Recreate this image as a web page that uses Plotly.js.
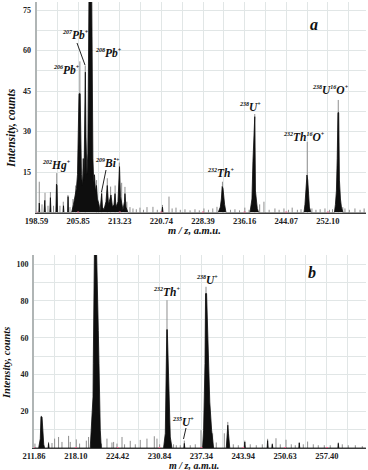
<!DOCTYPE html>
<html><head><meta charset="utf-8">
<script src="https://cdn.plot.ly/plotly-3.0.1.min.js"></script>
<style>html,body{margin:0;padding:0;background:#fff}#c{width:368px;height:470px}</style>
</head><body><div id="c"></div>
<script>
// ---------- DATA (m/z in a.m.u., intensity in counts) ----------
const topTickLabels = ['198.59','205.85','213.23','220.74','228.39','236.16','244.07','252.10'];
const botTickLabels = ['211.86','218.10','224.42','230.84','237.34','243.94','250.63','257.40'];

// panel a: dense (black) part of the spectrum
const topFillMz = [198.59,199.0,199.07,199.15,199.9,200.02,200.12,200.9,201.0,201.1,201.95,202.05,202.15,202.25,203.2,203.28,203.36,204.0,204.08,204.16,
 204.7,205.03,205.29,205.55,205.73,205.85,205.92,206.0,206.2,206.3,206.43,206.61,206.75,206.87,206.96,207.05,207.12,207.23,207.4,207.55,207.68,207.75,208.25,208.33,208.45,208.6,208.73,208.91,209.08,209.26,209.53,209.71,209.88,210.0,210.15,210.41,210.77,211.0,211.22,211.48,211.66,211.93,212.2,212.38,212.56,212.91,213.09,213.19,213.35,213.57,213.8,214.07,214.16,214.34,214.7,
 220.8,220.94,221.05,231.2,231.6,231.8,231.95,232.1,232.4,232.5,232.66,
 237.17,237.32,237.54,237.73,237.92,238.07,238.2,238.36,238.55,238.8,
 247.47,247.66,247.85,248.04,248.19,248.33,248.52,248.81,
 253.37,253.57,253.76,253.92,254.06,254.21,254.35,254.55,254.74,255.04,259.56];
const topFillInt = [0,0,3.5,0,0,4.5,0,0,5.5,0,0,10.5,10,0,0,2.5,0,0,5.9,0,
 0,3,6,9,14,28,40,44,44,30,14,10,20,12,30,52,52,28,14,22,45,79,79,45,20,11,14,8,10,5,3,0.5,5,7,2,1,4,10,3,5,6.5,2,3,7,2,4,17,17,6,4,1,4,7,2,0,
 0,2,0,0,2,5,9.6,9,3,1.5,0,
 0,3,5,19,30,35.5,8,3,1.5,0,
 0,3,8,13.9,12,5,2,0,
 0,3,8,20,37,37,12,5,2,0,0];

// panel a: thin (grey) sticks
const topSpikeMz = [199.07,199.54,200.06,200.58,201.0,201.54,202.1,202.66,203.24,204.06,204.41,204.94,205.4,206.15,207.1,209.1,210.0,211.0,211.6,212.4,213.15,213.57,214.16,214.5,
 215.06,215.6,216.2,216.86,217.5,218.13,219.21,220.0,220.94,222.13,222.7,223.41,224.2,225.06,226.0,226.9,227.7,228.56,229.4,230.2,230.98,232.0,233.5,234.34,235.2,236.2,237.0,
 238.07,239.0,239.81,240.8,241.9,242.7,243.62,244.5,245.2,246.2,246.9,248.1,249.0,249.78,250.6,251.53,252.4,253.0,254.12,255.0,255.43,256.3,257.39,258.4,259.2];
const topSpikeInt = [11.4,3,7.3,2.5,7.6,2.5,14.6,2.5,4,6.5,2,5,10,56,54.5,12,8,12.7,9.6,10,18.5,11,9.5,4,
 2,1.5,1.2,1.8,1,2,2.1,1,2.8,5.9,1.5,1.8,1,1.2,0.8,1.2,0.8,1.5,1,1.5,2.1,11.4,1,1.2,0.8,1.8,1,
 36.5,3,4,1,1.5,1,1.5,1,1.8,1,1.2,26.2,1.5,1,1.2,1.5,1,1.2,41.7,2,1.5,1,1.5,1,1.5];

// panel b: dense (black) part of the spectrum
const botFillMz = [211.86,212.55,212.79,212.9,213.05,213.16,213.3,213.43,213.95,214.02,214.1,
 220.26,220.42,220.68,220.72,220.78,220.83,220.87,220.9,221.2,221.28,221.38,221.48,221.58,221.67,221.78,221.93,
 231.46,231.73,231.83,231.96,232.04,232.24,232.35,232.5,232.76,234.6,234.68,234.76,
 237.53,237.69,237.91,238.0,238.16,238.43,238.66,238.95,239.26,
 241.26,241.4,241.5,241.6,241.81,244.1,244.19,244.28,247.75,247.83,247.92,248.5,248.58,248.66,252.85,252.92,253.0,259.2,259.27,259.35,263.8];
const botFillInt = [0,0,5,17,16.9,6,2,0,0,2.5,0,
 0,9.7,27.8,46,64,82,100,110,110,100,82,64,46,27.8,9.7,0,
 0,8,36.9,64.4,64.4,36.9,15,6,0,0,2.5,0,
 0,9.7,46,84,84,46,25,9.7,0,
 0,8,12.4,8,0,0,3.3,0,0,4,0,0,2,0,0,2.8,0,0,2.5,0,0];

// panel b: thin (grey) sticks
const botSpikeMz = [212.0,212.93,214.02,214.53,214.92,215.51,216.02,217.01,217.26,218.16,218.66,219.67,220.01,221.97,222.79,223.55,223.8,224.31,225.08,225.47,226.34,227.11,227.87,228.9,230.03,230.44,230.85,
 231.99,233.01,233.43,234.05,234.68,235.61,236.39,237.28,238.07,239.11,239.68,240.95,241.5,242.37,243.16,244.19,245.06,246.02,246.98,247.83,248.58,249.17,249.86,250.78,251.63,252.27,252.92,253.57,254.27,255.19,256.0,256.98,257.95,259.27,259.92,260.9,262.06,263.21];
const botSpikeInt = [2.4,17.5,3.3,2.7,5.1,6,3.3,6.6,3.3,4.7,2.4,4,6,2.4,5.1,3,3.3,2.4,6,2,3.9,2,4.4,5.1,6.4,5.1,2,
 80.4,2,1.5,1.5,4,1.5,2,9.7,87.7,8,3,8,14.2,2,1.5,4,2,1.5,2,5,2.5,5.3,2,4.5,2,1.5,3,2,3.5,2,1.5,1.5,1.5,3,2,1.5,1.5,1];

// ---------- BUILD ----------
const sq = v => Math.sqrt(v);   // time-of-flight axis: position ~ sqrt(m/z)
function sticks(mz, h, xa, ya) {
  const xs = [], ys = [];
  for (let i = 0; i < mz.length; i++) { xs.push(sq(mz[i]), sq(mz[i]), null); ys.push(0, h[i], null); }
  return {x: xs, y: ys, xaxis: xa, yaxis: ya, mode: 'lines', line: {color: '#8e8e8e', width: 1}, hoverinfo: 'skip', showlegend: false};
}
function dense(mz, h, xa, ya) {
  return {x: mz.map(sq), y: h, xaxis: xa, yaxis: ya, mode: 'lines', fill: 'tozeroy',
    fillcolor: '#0e0e0e', line: {color: '#0e0e0e', width: 0.8}, hoverinfo: 'skip', showlegend: false};
}
function mids(labels) {
  const v = labels.map(s => sq(parseFloat(s))), out = [];
  for (let i = 0; i < v.length - 1; i++) out.push((v[i] + v[i + 1]) / 2);
  out.push(v[v.length - 1] + (v[v.length - 1] - v[v.length - 2]) / 2);
  return out;
}

const L = 34, R = 2, T = 2, B = 22, W = 368 - L - R, H = 470 - T - B;
const px = (x, y) => ({x: (x - L) / W, y: 1 - (y - T) / H});

const tickFont = {family: 'Liberation Serif', size: 8.5, color: '#222', weight: 'bold'};
const labFont = {family: 'Liberation Serif', size: 11.5, color: '#111', weight: 'bold', style: 'italic'};
const GRID = '#e1e6e6';

function xax(labels, range, domain) {
  return {range: range, domain: domain, tickmode: 'array', tickvals: labels.map(s => sq(parseFloat(s))), ticktext: labels,
    ticks: '', tickfont: tickFont,
    showgrid: true, gridcolor: GRID, gridwidth: 1, zeroline: false, showline: true, linecolor: '#3c3c3c', linewidth: 1,
    minor: {tickvals: mids(labels), showgrid: true, gridcolor: GRID, gridwidth: 1, ticks: ''}, fixedrange: true};
}
function yax(vals, minorStep, range, domain) {
  return {range: range, domain: domain, tickmode: 'array', tickvals: vals, ticktext: vals.map(String), ticks: '',
    tickfont: {family: 'Liberation Serif', size: 8, color: '#222', weight: 'bold'}, ticklabelstandoff: 2,
    showgrid: true, gridcolor: GRID, gridwidth: 1, zeroline: false, showline: true, linecolor: '#b0b5b5', linewidth: 2,
    minor: {dtick: minorStep, tick0: 0, showgrid: true, gridcolor: GRID, gridwidth: 1, ticks: ''}, fixedrange: true};
}
// pink tick marks under the baseline, at the labelled positions
function tickMarks(labels, xa, ya) {
  return labels.map(s => ({type: 'line', xref: xa, yref: ya, ysizemode: 'pixel', yanchor: 0,
    x0: sq(parseFloat(s)), x1: sq(parseFloat(s)), y0: -4, y1: 1, line: {color: '#e6648c', width: 2}, layer: 'above'}));
}

const sup = (t) => '<sup><span style="font-size:6px">' + t + '</span></sup>';
function lab(text, x, y, size) {
  const p = px(x, y);
  return {xref: 'paper', yref: 'paper', x: p.x, y: p.y, xanchor: 'center', yanchor: 'middle', showarrow: false,
    text: text, font: Object.assign({}, labFont, size ? {size: size} : {})};
}
function seg(x0, y0, x1, y1) {
  const a = px(x0, y0), b = px(x1, y1);
  return {type: 'line', xref: 'paper', yref: 'paper', x0: a.x, y0: a.y, x1: b.x, y1: b.y, line: {color: '#222', width: 1}};
}

const data = [
  sticks(topSpikeMz, topSpikeInt, 'x', 'y'), dense(topFillMz, topFillInt, 'x', 'y'),
  sticks(botSpikeMz, botSpikeInt, 'x2', 'y2'), dense(botFillMz, botFillInt, 'x2', 'y2')
];

const annotations = [
  lab(sup('202') + 'Hg' + sup('+'), 56, 165),
  lab(sup('206') + 'Pb' + sup('+'), 66, 70),
  lab(sup('207') + 'Pb' + sup('+'), 75, 35),
  lab(sup('208') + 'Pb' + sup('+'), 108, 53),
  lab(sup('209') + 'Bi' + sup('+'), 107, 163),
  lab(sup('232') + 'Th' + sup('+'), 220, 173),
  lab(sup('238') + 'U' + sup('+'), 250, 107),
  lab(sup('232') + 'Th' + sup('16') + 'O' + sup('+'), 304, 137),
  lab(sup('238') + 'U' + sup('16') + 'O' + sup('+'), 330, 90),
  lab('a', 314, 24, 16),
  lab(sup('232') + 'Th' + sup('+'), 166, 292),
  lab(sup('238') + 'U' + sup('+'), 207, 280),
  lab(sup('235') + 'U' + sup('+'), 183, 422),
  lab('b', 312, 272, 16),
  lab('m / z, a.m.u.', 194, 230.5, 10.5),
  lab('m / z, a.m.u.', 194, 465.5, 10),
  Object.assign(lab('Intensity, counts', 12, 128, 11.5), {textangle: -90}),
  Object.assign(lab('Intensity, counts', 6, 363, 10.5), {textangle: -90})
];

const layout = {
  width: 368, height: 470, margin: {l: L, r: R, t: T, b: B}, paper_bgcolor: '#fff', plot_bgcolor: '#fff',
  showlegend: false,
  xaxis: Object.assign(xax(topTickLabels, [sq(198.59), sq(259.57)], [(36.5 - L) / W, 1]), {anchor: 'y'}),
  yaxis: Object.assign(yax([15, 30, 45, 60, 75], 7.5, [0, 78], [(448 - 212.5) / H, 1]), {anchor: 'x'}),
  xaxis2: Object.assign(xax(botTickLabels, [sq(211.86), sq(263.82)], [0, 1]), {anchor: 'y2'}),
  yaxis2: Object.assign(yax([20, 40, 60, 80, 100], 10, [0, 105], [0, (448 - 255) / H]), {anchor: 'x2'}),
  annotations: annotations,
  shapes: [seg(77, 43, 85, 65), seg(106, 170, 101.5, 192), seg(186, 428, 183.5, 439)]
    .concat(tickMarks(topTickLabels, 'x', 'y'), tickMarks(botTickLabels, 'x2', 'y2'))
};

Plotly.newPlot('c', data, layout, {staticPlot: true, displayModeBar: false});
</script></body></html>
